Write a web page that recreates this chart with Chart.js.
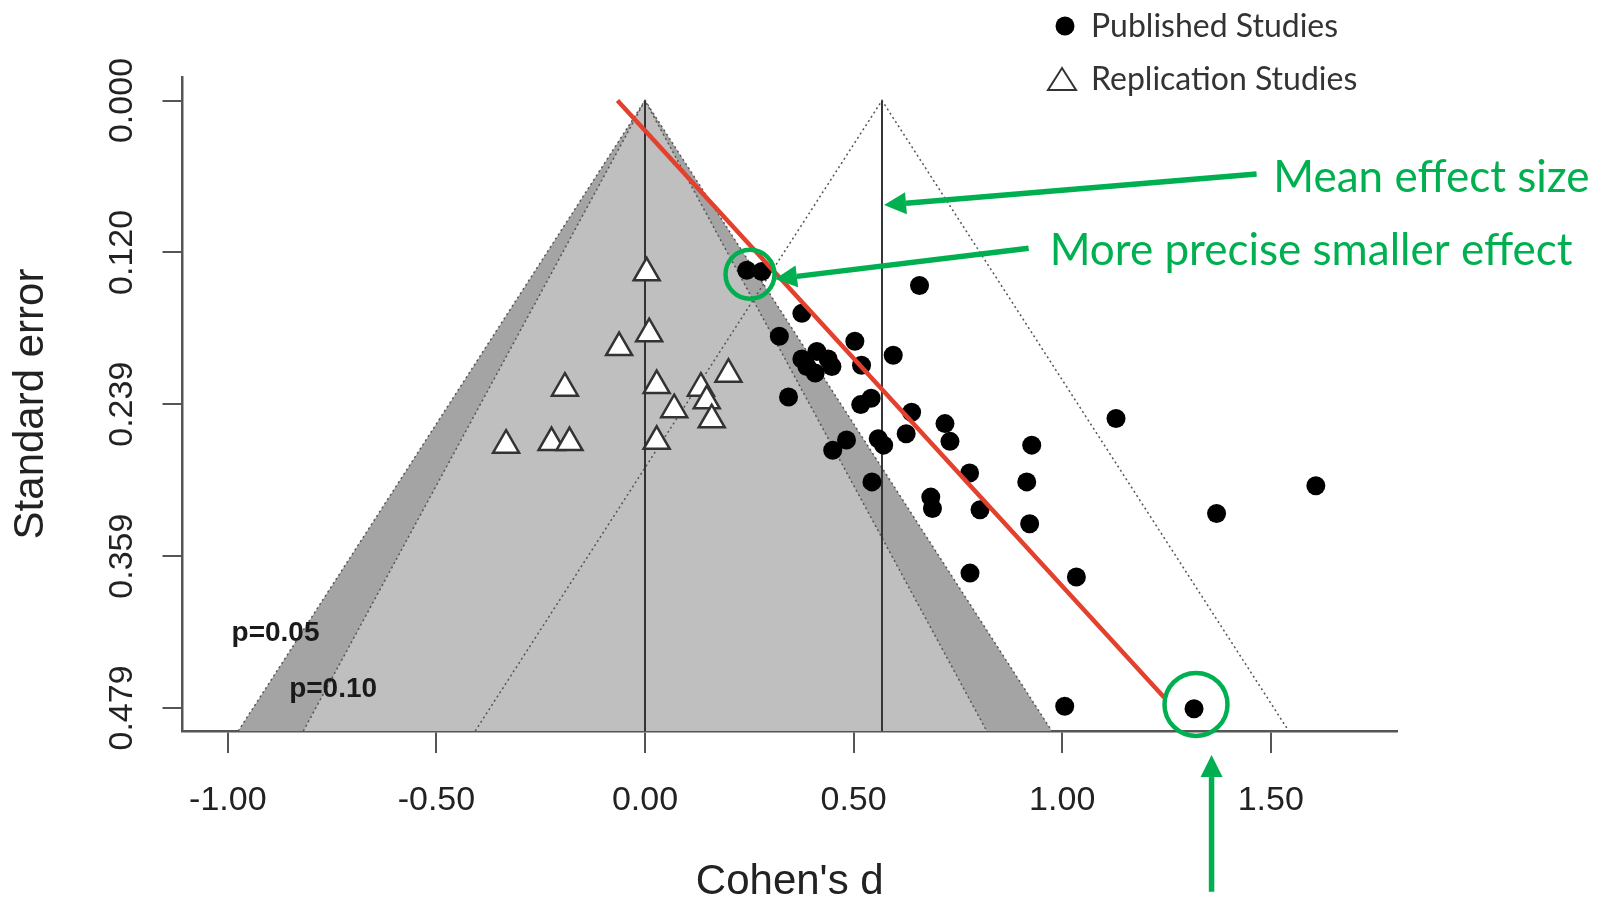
<!DOCTYPE html>
<html>
<head>
<meta charset="utf-8">
<title>Funnel plot</title>
<script src="https://cdn.jsdelivr.net/npm/chart.js"></script>
<style>
  html, body { margin: 0; padding: 0; background: #fff; }
  #wrap { width: 1608px; height: 906px; }
</style>
</head>
<body>
<div id="wrap"><canvas id="funnelChart" width="1608" height="906"></canvas></div>
<script>
// published studies (filled dots): Cohen's d and standard error
const publishedD = [0.244, 0.280, 0.658, 0.376, 0.322, 0.503, 0.595, 0.376, 0.412, 0.439,
  0.408, 0.448, 0.388, 0.519, 0.344, 0.517, 0.542, 0.639, 0.719, 1.129,
  0.450, 0.483, 0.559, 0.572, 0.626, 0.731, 0.927, 0.778, 0.915, 0.544,
  1.608, 0.685, 0.689, 0.803, 0.922, 1.370, 0.779, 1.034, 1.006, 1.316];
const publishedSE = [0.134, 0.135, 0.146, 0.168, 0.186, 0.190, 0.201, 0.204, 0.198, 0.204,
  0.215, 0.210, 0.210, 0.209, 0.234, 0.240, 0.235, 0.246, 0.255, 0.251,
  0.276, 0.268, 0.267, 0.272, 0.263, 0.269, 0.272, 0.294, 0.301, 0.301,
  0.304, 0.313, 0.322, 0.323, 0.334, 0.326, 0.373, 0.376, 0.478, 0.480];

// replication studies (open triangles)
const replicationD = [0.004, 0.010, -0.062, -0.192, 0.028, 0.200, 0.134, 0.148, 0.070, 0.160,
  -0.333, -0.224, -0.181, 0.028];
const replicationSE = [0.136, 0.184, 0.195, 0.227, 0.225, 0.216, 0.227, 0.237, 0.244, 0.252,
  0.272, 0.270, 0.270, 0.269];

// axes
const xTicks = [-1, -0.5, 0, 0.5, 1, 1.5];
const xTickLabels = ['-1.00', '-0.50', '0.00', '0.50', '1.00', '1.50'];
const seTicks = [0, 0.1199, 0.2397, 0.3596, 0.4794];
const seTickLabels = ['0.000', '0.120', '0.239', '0.359', '0.479'];

// funnels: left base, apex, right base
const seBottom = 0.4976;
const funnelSE = [seBottom, 0, seBottom];
const outerFunnelD = [-0.975, 0, 0.975];   // p = 0.05
const innerFunnelD = [-0.819, 0, 0.819];   // p = 0.10
const meanEffect = 0.568;
const meanFunnelD = [-0.407, 0.568, 1.543];

// red regression line
const trendD = [-0.066, 1.244];
const trendSE = [0.000, 0.471];

// annotations (in data units)
const pLabels = ['p=0.05', 'p=0.10'];
const pLabelD = [-0.991, -0.853];
const pLabelSE = [0.4266, 0.4710];
const noteTexts = ['Mean effect size', 'More precise smaller effect'];
const noteD = [1.506, 0.970];
const noteSE = [0.0720, 0.1298];
const arrowFromD = [1.466, 0.9195, 1.358];
const arrowFromSE = [0.058, 0.1166, 0.6245];
const arrowToD = [0.573, 0.3116, 1.358];
const arrowToSE = [0.0825, 0.1409, 0.5166];
const ringD = [0.2517, 1.3207];
const ringSE = [0.1372, 0.4766];
const ringRadius = [24.5, 31.5];

const GREEN = '#00b050';
const AXIS_FONT = '"Liberation Sans", Arial, sans-serif';
const NOTE_FONT = 'Lato, "Open Sans", sans-serif';

const toPoints = (xs, ys) => xs.map((v, i) => ({ x: v, y: ys[i] }));

function drawArrow(ctx, x0, y0, x1, y1, width, head, half) {
  const a = Math.atan2(y1 - y0, x1 - x0);
  const bx = x1 - Math.cos(a) * head, by = y1 - Math.sin(a) * head;
  ctx.lineWidth = width;
  ctx.beginPath();
  ctx.moveTo(x0, y0);
  ctx.lineTo(bx, by);
  ctx.stroke();
  ctx.beginPath();
  ctx.moveTo(x1, y1);
  ctx.lineTo(bx - Math.sin(a) * half, by + Math.cos(a) * half);
  ctx.lineTo(bx + Math.sin(a) * half, by - Math.cos(a) * half);
  ctx.closePath();
  ctx.fill();
}

const annotationPlugin = {
  id: 'annotations',
  afterDatasetsDraw(chart) {
    const { ctx, scales: { x, y } } = chart;
    ctx.save();
    // p-value labels
    ctx.fillStyle = '#1a1a1a';
    ctx.font = 'bold 28px ' + AXIS_FONT;
    ctx.textAlign = 'left';
    ctx.textBaseline = 'alphabetic';
    pLabels.forEach((t, i) => {
      ctx.fillText(t, x.getPixelForValue(pLabelD[i]), y.getPixelForValue(pLabelSE[i]));
    });
    // green rings, arrows and notes
    ctx.strokeStyle = GREEN;
    ctx.fillStyle = GREEN;
    ctx.lineWidth = 4.5;
    ringD.forEach((d, i) => {
      ctx.beginPath();
      ctx.arc(x.getPixelForValue(d), y.getPixelForValue(ringSE[i]), ringRadius[i], 0, Math.PI * 2);
      ctx.stroke();
    });
    arrowFromD.forEach((d, i) => {
      drawArrow(ctx, x.getPixelForValue(d), y.getPixelForValue(arrowFromSE[i]),
        x.getPixelForValue(arrowToD[i]), y.getPixelForValue(arrowToSE[i]), 5.5, 22, 11);
    });
    ctx.font = '44px ' + NOTE_FONT;
    noteTexts.forEach((t, i) => {
      ctx.fillText(t, x.getPixelForValue(noteD[i]), y.getPixelForValue(noteSE[i]));
    });
    ctx.restore();
  }
};

const legendPlugin = {
  id: 'funnelLegend',
  afterDraw(chart) {
    const ctx = chart.ctx;
    const items = chart.data.datasets.filter(ds => ds.inLegend);
    ctx.save();
    ctx.font = '32px ' + NOTE_FONT;
    ctx.textBaseline = 'middle';
    ctx.textAlign = 'left';
    items.forEach((ds, i) => {
      const cy = 26 + i * 53;
      if (ds.pointStyle === 'circle') {
        ctx.fillStyle = '#000';
        ctx.beginPath();
        ctx.arc(1065, cy, 9.5, 0, Math.PI * 2);
        ctx.fill();
      } else {
        ctx.strokeStyle = '#333';
        ctx.lineWidth = 2;
        ctx.beginPath();
        ctx.moveTo(1062, cy - 11);
        ctx.lineTo(1076, cy + 11);
        ctx.lineTo(1048, cy + 11);
        ctx.closePath();
        ctx.stroke();
      }
      ctx.fillStyle = '#333';
      ctx.fillText(ds.label, 1091, cy + 1);
    });
    ctx.restore();
  }
};

const ctx = document.getElementById('funnelChart').getContext('2d');

new Chart(ctx, {
  type: 'scatter',
  data: {
    datasets: [
      {
        label: 'Published Studies',
        inLegend: true,
        data: toPoints(publishedD, publishedSE),
        pointStyle: 'circle',
        pointRadius: 9.5,
        backgroundColor: '#000',
        borderWidth: 0,
        order: 2
      },
      {
        label: 'Replication Studies',
        inLegend: true,
        data: toPoints(replicationD, replicationSE),
        pointStyle: 'triangle',
        pointRadius: 15,
        backgroundColor: '#fff',
        borderColor: '#333',
        borderWidth: 2.5,
        order: 3
      },
      {
        type: 'line',
        label: 'Trend',
        data: toPoints(trendD, trendSE),
        borderColor: '#e3402e',
        borderWidth: 4.5,
        pointRadius: 0,
        fill: false,
        order: 1
      },
      {
        type: 'line',
        label: 'Mean line',
        data: toPoints([meanEffect, meanEffect], [0, seBottom]),
        borderColor: '#333',
        borderWidth: 2,
        pointRadius: 0,
        fill: false,
        order: 5
      },
      {
        type: 'line',
        label: 'Zero line',
        data: toPoints([0, 0], [0, seBottom]),
        borderColor: '#333',
        borderWidth: 2,
        pointRadius: 0,
        fill: false,
        order: 5
      },
      {
        type: 'line',
        label: 'Mean funnel',
        data: toPoints(meanFunnelD, funnelSE),
        borderColor: '#555',
        borderWidth: 1.5,
        borderDash: [2, 3],
        pointRadius: 0,
        fill: false,
        order: 6
      },
      {
        type: 'line',
        label: 'p = 0.10',
        data: toPoints(innerFunnelD, funnelSE),
        borderColor: '#555',
        borderWidth: 1.5,
        borderDash: [2, 3],
        backgroundColor: '#bfbfbf',
        pointRadius: 0,
        fill: 'start',
        order: 7
      },
      {
        type: 'line',
        label: 'p = 0.05',
        data: toPoints(outerFunnelD, funnelSE),
        borderColor: '#555',
        borderWidth: 1.5,
        borderDash: [2, 3],
        backgroundColor: '#a4a4a4',
        pointRadius: 0,
        fill: 'start',
        order: 8
      }
    ]
  },
  options: {
    responsive: false,
    animation: false,
    devicePixelRatio: 1,
    layout: { padding: { left: 0, top: 77, right: 211, bottom: 0 } },
    plugins: {
      legend: { display: false },
      tooltip: { enabled: false }
    },
    scales: {
      x: {
        type: 'linear',
        min: -1.1086,
        max: 1.8025,
        afterBuildTicks: s => { s.ticks = xTicks.map(v => ({ value: v })); },
        afterFit: s => { s.height = 175; },
        grid: { display: true, drawOnChartArea: false, drawTicks: true, tickLength: 22, color: '#555', tickColor: '#555', lineWidth: 2 },
        border: { display: true, color: '#555', width: 2.5 },
        ticks: {
          autoSkip: false,
          maxRotation: 0,
          padding: 27,
          color: '#222',
          font: { family: AXIS_FONT, size: 34 },
          callback: v => xTickLabels[xTicks.indexOf(v)]
        },
        title: {
          display: true,
          text: "Cohen's d",
          color: '#222',
          font: { family: AXIS_FONT, size: 42, lineHeight: 1.1 },
          padding: { top: 0, bottom: 0 }
        }
      },
      y: {
        type: 'linear',
        reverse: true,
        min: -0.01855,
        max: 0.4976,
        afterBuildTicks: s => { s.ticks = seTicks.map(v => ({ value: v })); },
        afterFit: s => { s.width = 182.5; },
        grid: { display: true, drawOnChartArea: false, drawTicks: true, tickLength: 20, color: '#555', tickColor: '#555', lineWidth: 2 },
        border: { display: true, color: '#555', width: 2.5 },
        ticks: {
          minRotation: 90,
          maxRotation: 90,
          crossAlign: 'center',
          padding: -3,
          color: '#222',
          font: { family: AXIS_FONT, size: 34 },
          callback: v => seTickLabels[seTicks.indexOf(v)]
        },
        title: {
          display: true,
          text: 'Standard error',
          color: '#222',
          font: { family: AXIS_FONT, size: 42 },
          padding: { top: 6, bottom: 0 }
        }
      }
    }
  },
  plugins: [annotationPlugin, legendPlugin]
});
</script>
</body>
</html>
